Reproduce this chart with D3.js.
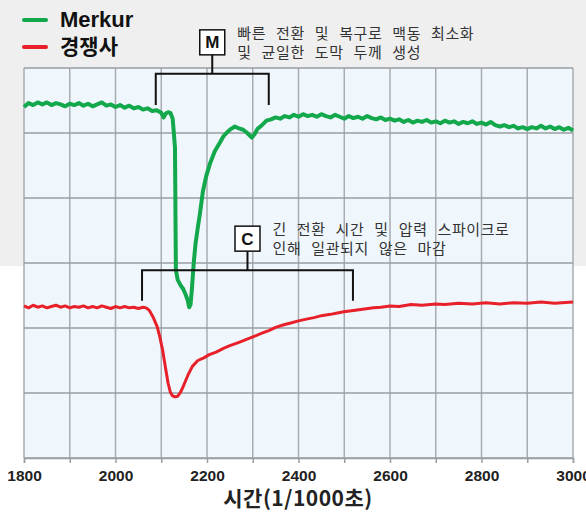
<!DOCTYPE html>
<html>
<head>
<meta charset="utf-8">
<script src="https://cdn.jsdelivr.net/npm/d3@7"></script>
<style>
  body { margin: 0; background: #fff; }
  svg { display: block; }
</style>
</head>
<body>
<svg width="586" height="513"></svg>
<script>
// series: time (ms) and signal (arbitrary units)
const merkurX = [1800,1810,1820,1830,1840,1850,1860,1870,1880,1890,1900,1910,1920,1930,1940,1950,1960,1970,1980,1990,
  2000,2010,2020,2030,2040,2050,2060,2070,2080,2090,2100,2105,2110,2115,2120,2125,2130,2132,2136,2142,2148,2153,2158,2161,2164,
  2167,2171,2175,2180,2185,2191,2198,2207,2217,2228,2236,2244,2252,2261,2270,2279,2288,2298,2304,2310,2320,2330,2340,2350,2360,
  2370,2380,2390,2400,2410,2420,2430,2440,2450,2460,2470,2480,2490,2500,2510,2520,2530,2540,2550,2560,2570,2580,2590,2600,
  2610,2620,2630,2640,2650,2660,2670,2680,2690,2700,2710,2720,2730,2740,2750,2760,2770,2780,2790,2800,2810,2820,2830,2840,
  2850,2860,2870,2880,2890,2900,2910,2920,2930,2940,2950,2960,2970,2980,2990,3000];
const merkurY = [5.40,5.46,5.43,5.47,5.44,5.47,5.43,5.46,5.44,5.41,5.45,5.43,5.46,5.42,5.45,5.41,5.44,5.47,5.42,5.44,
  5.40,5.43,5.39,5.42,5.38,5.40,5.36,5.38,5.34,5.35,5.31,5.24,5.30,5.32,5.31,5.22,4.78,2.89,2.74,2.66,2.60,2.52,2.42,2.32,2.36,
  2.60,3.00,3.30,3.55,3.78,4.10,4.33,4.54,4.72,4.85,4.95,5.01,5.06,5.10,5.07,5.05,5.00,4.93,4.98,5.06,5.12,5.19,5.21,5.24,5.22,
  5.26,5.24,5.28,5.25,5.29,5.26,5.28,5.25,5.29,5.26,5.24,5.28,5.25,5.22,5.26,5.23,5.25,5.22,5.26,5.23,5.21,5.24,5.20,5.22,
  5.19,5.21,5.17,5.20,5.16,5.19,5.17,5.20,5.16,5.18,5.15,5.19,5.16,5.18,5.14,5.17,5.15,5.18,5.14,5.16,5.13,5.17,5.12,5.10,
  5.12,5.09,5.11,5.07,5.09,5.06,5.09,5.07,5.11,5.07,5.10,5.06,5.09,5.05,5.08,5.04];

const rivalX = [1800,1810,1820,1830,1840,1850,1860,1870,1880,1890,1900,1910,1920,1930,1940,1950,1960,1970,1980,1990,
  2000,2010,2020,2030,2040,2050,2060,2067,2074,2082,2091,2097,2103,2109,2115,2120,2124,2130,2136,2142,2148,2158,2168,2180,
  2193,2205,2220,2237,2250,2270,2285,2303,2320,2335,2350,2368,2385,2400,2420,2434,2450,2470,2485,2499,2520,2540,2564,2580,
  2600,2620,2646,2670,2700,2720,2750,2780,2810,2840,2870,2900,2930,2960,3000];
const rivalY = [2.34,2.31,2.35,2.32,2.34,2.31,2.33,2.35,2.32,2.34,2.31,2.33,2.32,2.34,2.31,2.33,2.31,2.34,2.32,2.30,
  2.33,2.31,2.33,2.31,2.32,2.30,2.32,2.31,2.27,2.17,2.02,1.86,1.66,1.40,1.15,1.01,0.96,0.94,0.95,1.01,1.10,1.27,1.41,1.50,
  1.54,1.59,1.63,1.69,1.73,1.78,1.82,1.87,1.92,1.96,2.01,2.05,2.08,2.11,2.14,2.16,2.19,2.21,2.23,2.25,2.27,2.29,2.31,2.32,
  2.34,2.33,2.36,2.35,2.37,2.36,2.38,2.37,2.39,2.37,2.39,2.38,2.40,2.38,2.40];

const seriesNames = ["Merkur", "경쟁사"];
const seriesColors = ["#13a84b", "#e8202a"];

const xTicks = d3.range(1800, 3001, 100);
const yTicks = [0, 1, 2, 3, 4, 5, 6];
const xTitle = "시간(1/1000초)";

// brackets: [start ms, end ms, top level, leg bottom level]
const bracketM = [2088, 2335, 5.91, 5.43];
const bracketC = [2058, 2519, 2.89, 2.42];
const noteM = ["빠른 전환 및 복구로 맥동 최소화", "및 균일한 도막 두께 생성"];
const noteC = ["긴 전환 시간 및 압력 스파이크로", "인해 일관되지 않은 마감"];

const width = 586, height = 513;
const margin = { top: 68, right: 13, bottom: 55, left: 24 };

const svg = d3.select("svg");

// grey band behind upper half
svg.append("rect").attr("x", 0).attr("y", 0).attr("width", width).attr("height", 266).attr("fill", "#efefef");

const x = d3.scaleLinear().domain([1800, 3000]).range([margin.left, width - margin.right]);
const y = d3.scaleLinear().domain([0, 6]).range([height - margin.bottom, margin.top]);

// plot area
svg.append("rect")
  .attr("x", x(1800)).attr("y", y(6))
  .attr("width", x(3000) - x(1800)).attr("height", y(0) - y(6))
  .attr("fill", "#eff7fd");

// grid
svg.append("g").selectAll("line").data(xTicks).join("line")
  .attr("x1", d => x(d)).attr("x2", d => x(d))
  .attr("y1", y(6)).attr("y2", y(0))
  .attr("stroke", "#a9adb1").attr("stroke-width", 1.5);

svg.append("g").selectAll("line").data(yTicks).join("line")
  .attr("x1", x(1800)).attr("x2", x(3000))
  .attr("y1", d => y(d)).attr("y2", d => y(d))
  .attr("stroke", "#9a9ea2").attr("stroke-width", 1.5);

// x axis
const xAxis = svg.append("g")
  .attr("transform", `translate(0,${y(0)})`)
  .call(d3.axisBottom(x).tickValues(xTicks).tickSize(5).tickPadding(7)
    .tickFormat(d => d % 200 === 0 ? d : ""));
xAxis.select(".domain").attr("stroke", "#9a9ea2").attr("stroke-width", 1.5);
xAxis.selectAll(".tick line").attr("stroke", "#9a9ea2").attr("stroke-width", 1.5);
xAxis.selectAll("text")
  .attr("fill", "#222")
  .style("font-family", "'Liberation Sans Narrow', 'Liberation Sans', Arial, sans-serif")
  .style("font-weight", "bold")
  .style("font-size", "15.5px");

svg.append("text")
  .attr("x", 298).attr("y", 506)
  .attr("text-anchor", "middle")
  .style("font-family", "'Noto Sans CJK KR', sans-serif")
  .style("font-weight", "bold")
  .style("font-size", "21px")
  .style("letter-spacing", "0.5px")
  .attr("fill", "#222")
  .text(xTitle);

// lines
const line = d3.line().x(d => x(d[0])).y(d => y(d[1]));
const rivalData = rivalX.map((t, i) => [t, rivalY[i]]);
const merkurData = merkurX.map((t, i) => [t, merkurY[i]]);

svg.append("path").datum(rivalData)
  .attr("d", line).attr("fill", "none")
  .attr("stroke", seriesColors[1]).attr("stroke-width", 3).attr("stroke-linejoin", "round");

svg.append("path").datum(merkurData)
  .attr("d", line).attr("fill", "none")
  .attr("stroke", seriesColors[0]).attr("stroke-width", 4).attr("stroke-linejoin", "round");

// brackets with label boxes
function bracket(b, letter, note) {
  const g = svg.append("g");
  const x0 = x(b[0]), x1 = x(b[1]), top = y(b[2]), bot = y(b[3]);
  const cx = (x0 + x1) / 2;
  g.append("path")
    .attr("d", `M${x0},${bot}V${top}H${x1}V${bot}M${cx},${top}V${top - 20}`)
    .attr("fill", "none").attr("stroke", "#111").attr("stroke-width", 2);
  g.append("rect")
    .attr("x", cx - 12.5).attr("y", top - 44).attr("width", 25).attr("height", 25)
    .attr("fill", "#fff").attr("stroke", "#111").attr("stroke-width", 1.5);
  g.append("text")
    .attr("x", cx).attr("y", top - 25.5).attr("text-anchor", "middle")
    .style("font-family", "'Liberation Sans Narrow', 'Liberation Sans', Arial, sans-serif")
    .style("font-weight", "bold").style("font-size", "17px")
    .attr("fill", "#111").text(letter);
  g.append("g").selectAll("text").data(note).join("text")
    .attr("x", cx + 25).attr("y", (d, i) => top - 35 + i * 19)
    .style("font-family", "'Noto Sans CJK KR', sans-serif")
    .style("font-size", "15px")
    .style("word-spacing", "6px")
    .style("letter-spacing", "0.6px")
    .attr("fill", "#333").text(d => d);
}
bracket(bracketM, "M", noteM);
bracket(bracketC, "C", noteC);

// legend
const legend = svg.append("g").selectAll("g").data(seriesNames).join("g")
  .attr("transform", (d, i) => `translate(24,${20 + i * 27})`);
legend.append("line")
  .attr("x1", 0).attr("x2", 22)
  .attr("stroke", (d, i) => seriesColors[i]).attr("stroke-width", 4).attr("stroke-linecap", "round");
legend.append("text")
  .attr("x", 36).attr("y", 7)
  .style("font-family", "'Liberation Sans', 'Noto Sans CJK KR', sans-serif")
  .style("font-weight", "bold").style("font-size", (d, i) => i === 0 ? "22px" : "21px")
  .attr("fill", "#111").text(d => d);
</script>
</body>
</html>
